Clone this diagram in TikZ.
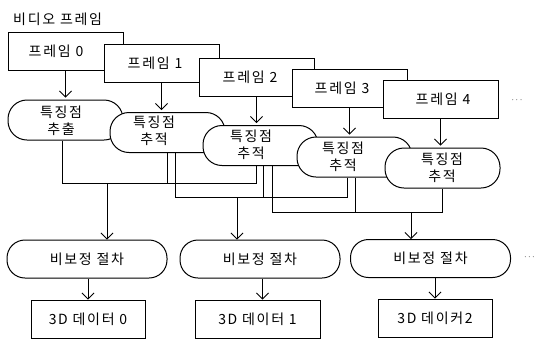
\documentclass[tikz,border=0pt]{standalone}
\usepackage{fontspec}
\setmainfont[LetterSpace=12]{Noto Sans CJK KR}
\usepackage{tikz}
\usetikzlibrary{arrows.meta}

\tikzset{
  framebox/.style={draw, fill=white, line width=1pt, minimum width=115pt, minimum height=38pt},
  featbox/.style={draw, fill=white, line width=1pt, rounded corners=19pt, minimum width=115pt, minimum height=40pt},
  procbox/.style={draw, fill=white, line width=1pt, rounded corners=18pt, minimum width=160pt, minimum height=38pt},
  databox/.style={draw, line width=1pt, minimum width=114pt, minimum height=38pt},
  txt/.style={align=center, inner sep=0pt},
  arr/.style={-{Straight Barb[length=6pt,width=12pt]}, line width=0.8pt},
  wire/.style={line width=0.8pt},
}

\begin{document}
\begin{tikzpicture}[x=1pt, y=-1pt, font=\fontsize{14}{16.5}\selectfont]
        \useasboundingbox (0,0) rectangle (536,341);

        % Title
        \node[txt, anchor=west] (title) at (13,19) {비디오 프레임};

        % Video frames
        \node[framebox] (f0)  at (65.5,51)   {};
        \node[txt]      (f0t) at (56,51)     {프레임 0};
        \node[framebox] (f1)  at (161.5,63)  {};
        \node[txt]      (f1t) at (155,63)    {프레임 1};
        \node[framebox] (f2)  at (256.5,77)  {};
        \node[txt]      (f2t) at (250,77)    {프레임 2};
        \node[framebox] (f3)  at (349.5,88.5){};
        \node[txt]      (f3t) at (342,88.5)  {프레임 3};
        \node[framebox] (f4)  at (440.5,99.5){};
        \node[txt]      (f4t) at (443,99.5)  {프레임 4};
        \node[txt, font=\small] (dots1) at (517,100) {$\cdots$};

        % Feature points
        \node[featbox] (k0)  at (65.5,120)  {};
        \node[txt]     (k0t) at (61,121)    {특징점\\추출};
        \node[featbox] (k1)  at (167.5,132.5) {};
        \node[txt]     (k1t) at (154,131)   {특징점\\추적};
        \node[featbox] (k2)  at (260.5,145.5) {};
        \node[txt]     (k2t) at (251,145)   {특징점\\추적};
        \node[featbox] (k3)  at (354.5,157) {};
        \node[txt]     (k3t) at (343,157)   {특징점\\추적};
        \node[featbox] (k4)  at (442.5,168) {};
        \node[txt]     (k4t) at (442,168)   {특징점\\추적};

        % Frame to feature arrows
        \draw[arr, shorten >=2pt] (f0.south) -- (f0.south |- k0.north);
        \draw[arr, shorten >=2pt] (f1.south) -- (f1.south |- k1.north);
        \draw[arr, shorten >=2pt] (f2.south) -- (f2.south |- k2.north);
        \draw[arr, shorten >=2pt] (f3.south) -- (f3.south |- k3.north);
        \draw[arr, shorten >=2pt] (f4.south) -- (f4.south |- k4.north);

        % Merge lines
        \coordinate (s00) at (62,183);
        \coordinate (s01) at (167,183);
        \coordinate (s02) at (256,183);
        \coordinate (s11) at (175,197);
        \coordinate (s12) at (263,197);
        \coordinate (s13) at (347,197);
        \coordinate (s22) at (272,212);
        \coordinate (s23) at (355,212);
        \coordinate (s24) at (442,212);
        \coordinate (o0) at (107,183);
        \coordinate (o1) at (237,197);
        \coordinate (o2) at (411,212);

        \draw[wire] (k0.south -| s00) -- (s00) -- (s02) -- (k2.south -| s02);
        \draw[wire] (k1.south -| s01) -- (s01);
        \draw[wire] (k1.south -| s11) -- (s11) -- (s13) -- (k3.south -| s13);
        \draw[wire] (k2.south -| s12) -- (s12);
        \draw[wire] (k2.south -| s22) -- (s22) -- (s24) -- (k4.south -| s24);
        \draw[wire] (k3.south -| s23) -- (s23);

        % Uncalibrated procedure
        \node[procbox] (p0) at (87,259)    {비보정 절차};
        \node[procbox] (p1) at (260,259)   {비보정 절차};
        \node[procbox] (p2) at (430.5,258.5) {비보정 절차};
        \node[txt, font=\small, anchor=east] (dots2) at (535,257) {$\cdots$};

        \draw[arr] (o0) -- (o0 |- p0.north);
        \draw[arr] (o1) -- (o1 |- p1.north);
        \draw[arr] (o2) -- (o2 |- p2.north);

        % 3D data
        \node[databox] (d0) at (88,319)   {3D 데이터 0};
        \node[databox, minimum width=125pt] (d1) at (257.5,319) {3D 데이터 1};
        \node[databox] (d2) at (435,318)  {3D 데이커2};

        \draw[arr] (d0.north |- p0.south) -- (d0.north);
        \draw[arr] ([xshift=5pt]d1.north |- p1.south) -- ([xshift=5pt]d1.north);
        \draw[arr] (d2.north |- p2.south) -- (d2.north);
    \end{tikzpicture}
\end{document}
